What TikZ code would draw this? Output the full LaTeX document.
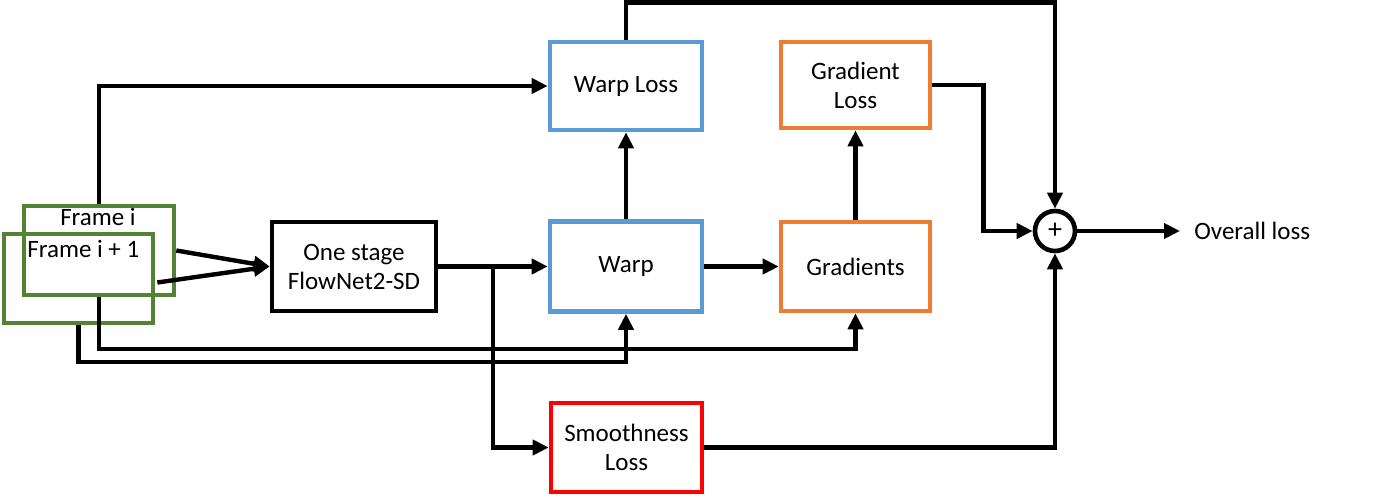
\documentclass[tikz,border=0pt]{standalone}
\usepackage{fontspec}
\setmainfont{Carlito}
\usepackage{tikz}
\usetikzlibrary{arrows.meta,positioning,calc}
\definecolor{blueline}{HTML}{5B9BD5}
\definecolor{orangeline}{HTML}{ED7D31}
\definecolor{greenline}{HTML}{548235}
\definecolor{redline}{HTML}{FF0000}
\tikzset{
  netbox/.style   ={draw=black,line width=2.3pt,align=center,inner sep=2pt},
  bluebox/.style  ={netbox,draw=blueline},
  orangebox/.style={netbox,draw=orangeline},
  redbox/.style   ={netbox,draw=redline},
  greenbox/.style ={draw=greenline,line width=2.3pt,inner sep=0pt},
  sumnode/.style  ={circle,draw=black,line width=2.3pt,minimum size=20pt,inner sep=0pt,
                    font=\fontsize{14}{14}\selectfont},
  flow/.style     ={-{Triangle[length=8pt,width=7.5pt]},line width=2.2pt,draw=black}
}
\begin{document}
\begin{tikzpicture}[x=0.5pt,y=-0.5pt,font=\fontsize{12.5}{14.5}\selectfont]
    \useasboundingbox (0,0) rectangle (1378,497);
    % --- input frames ---
    \node[greenbox,minimum width=75pt,minimum height=44.5pt] (fi) at (99,250.5) {};
    \node[greenbox,minimum width=74.5pt,minimum height=44.5pt] (fj) at (78.5,278.5) {};
    \node (filab) at (98,217) {Frame i};
    \node[anchor=west,inner sep=0pt] (fjlab) at (27,249) {Frame i + 1};
    % --- network and warping ---
    \node[netbox,minimum width=82pt,minimum height=44.5pt] (os) at (354,266.5)
      {One stage\\FlowNet2-SD};
    \node[bluebox,minimum width=76pt,minimum height=45pt] (wp) at (626,266.5) {Warp};
    \node[bluebox,minimum width=76pt,minimum height=44pt] (wl) at (626,86) {Warp Loss};
    \node[orangebox,minimum width=74.5pt,minimum height=44.5pt] (gr) at (855.5,266.5)
      {Gradients};
    \node[orangebox,minimum width=74.5pt,minimum height=43pt] (gl) at (855.5,85)
      {Gradient\\Loss};
    \node[redbox,minimum width=75.5pt,minimum height=44.5pt] (sm) at (626.5,447.5)
      {Smoothness\\Loss};
    % --- sum and output ---
    \node[sumnode] (plus) at (1055,231) {+};
    \node[anchor=west,inner sep=7pt] (ol) at (1180,231) {Overall loss};
    \coordinate (br) at ($(os.east)!.5!(wp.west)$);
    % --- flow ---
    \draw[flow] (fi.east) -- (os.west);
    \draw[flow] ($(fj.east)+(2,4)$) -- (os.west);
    \draw[flow] (fi.north) |- (wl.west);
    \draw[flow] (fi.south) -- ++(0,52) -| (gr.south);
    \draw[flow] (fj.south) -- ++(0,37) -| (wp.south);
    \draw[flow] (os.east) -- (wp.west);
    \draw[flow] (br) |- (sm.west);
    \draw[flow] (wp.north) -- (wl.south);
    \draw[flow] (wp.east) -- (gr.west);
    \draw[flow] (gr.north) -- (gl.south);
    % losses into the sum
    \draw[flow] (wl.north) -- ++(0,-37) -| (plus.north);
    \draw[flow] (gl.east) -- ++(51,0) |- (plus.west);
    \draw[flow] (sm.east) -| (plus.south);
    \draw[flow] (plus.east) -- (ol.west);
  \end{tikzpicture}
\end{document}
